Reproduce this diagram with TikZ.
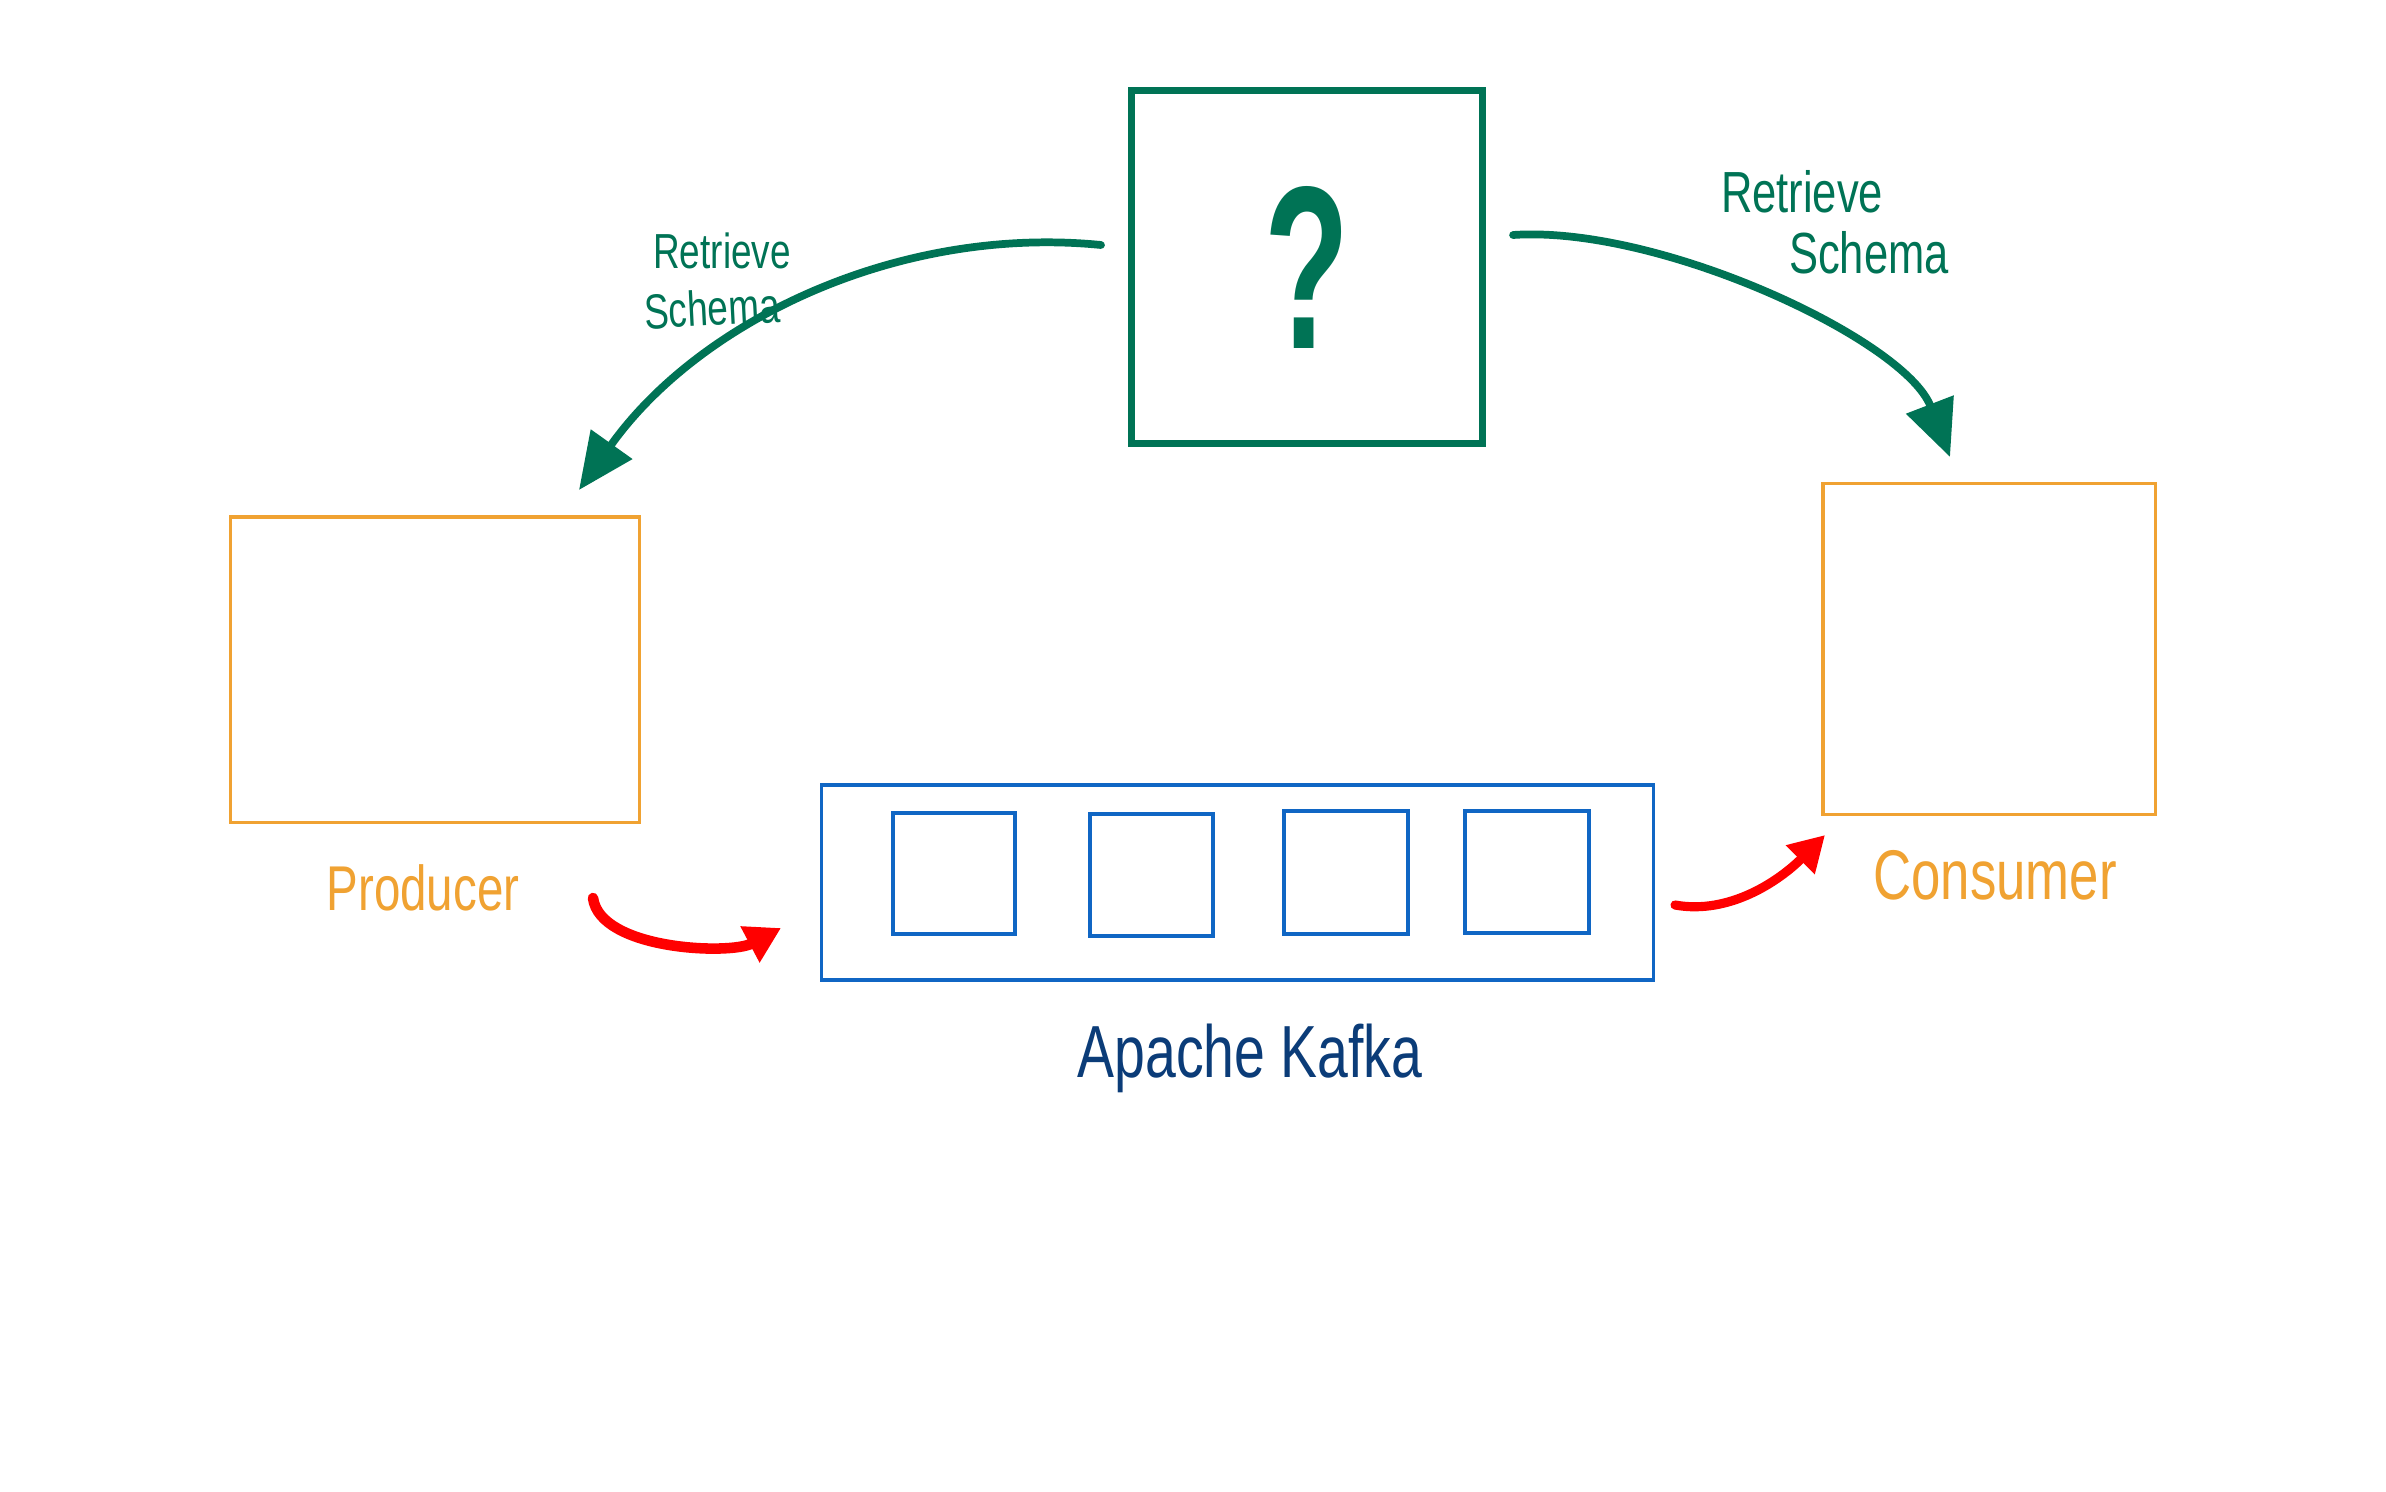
\documentclass[tikz,border=0pt]{standalone}
\usepackage{fontspec}
\usetikzlibrary{arrows.meta}
\newfontfamily\hand[FakeStretch=0.75]{Liberation Sans}
\newfontfamily\qmark[FakeStretch=0.6]{Liberation Sans}
\definecolor{sgreen}{HTML}{007355}
\definecolor{sorange}{HTML}{F0A232}
\definecolor{sblue}{HTML}{1066C4}
\definecolor{sdark}{HTML}{0B3C78}
\definecolor{sred}{HTML}{FF0000}
\tikzset{
  qbox/.style={draw=sgreen, line width=2pt, minimum width=3.5cm, minimum height=3.52cm, inner sep=0pt},
  pcbox/.style={draw=sorange, line width=0.9pt, inner sep=0pt},
  kbox/.style={draw=sblue, line width=0.9pt, inner sep=0pt},
  partbox/.style={draw=sblue, line width=0.9pt, inner sep=0pt},
  garrow/.style={draw=sgreen, line width=2.2pt, line cap=round, -{Triangle[length=16pt,width=14pt]}},
  rarrow/.style={draw=sred, line width=3pt, line cap=round, -{Triangle[length=10pt,width=11pt]}},
  glabel/.style={text=sgreen, inner sep=0pt, font=\hand},
}
\begin{document}
\begin{tikzpicture}[x=0.01cm,y=-0.01cm]
\useasboundingbox[fill=white] (0,0) rectangle (2386,1491);

% schema registry (unknown)
\node[qbox, text=sgreen, font=\qmark\bfseries\fontsize{66}{66}\selectfont] (q) at (1307,267) {?};

% producer and consumer
\node[pcbox, minimum width=4.08cm, minimum height=3.05cm] (prod) at (435,669.5) {};
\node[pcbox, minimum width=3.32cm, minimum height=3.30cm] (cons) at (1989,649) {};
\node[text=sorange, font=\hand\fontsize{18}{18}\selectfont, inner sep=0pt] (prodl) at (423,888) {Producer};
\node[text=sorange, font=\hand\fontsize{20}{20}\selectfont, inner sep=0pt] (consl) at (1995,875) {Consumer};

% kafka
\node[kbox, minimum width=8.31cm, minimum height=1.95cm] (kafka) at (1237.5,882.5) {};
\node[partbox, minimum width=1.22cm, minimum height=1.21cm] (k1) at (954,873.5) {};
\node[partbox, minimum width=1.23cm, minimum height=1.22cm] (k2) at (1151.5,875) {};
\node[partbox, minimum width=1.24cm, minimum height=1.23cm] (k3) at (1346,872.5) {};
\node[partbox, minimum width=1.24cm, minimum height=1.22cm] (k4) at (1527,872) {};
\node[text=sdark, font=\hand\fontsize{21}{21}\selectfont, inner sep=0pt] (kafkal) at (1250,1058) {Apache Kafka};

% labels
\node[glabel, font=\hand\fontsize{14}{14}\selectfont] (lr1) at (722,251) {Retrieve};
\node[glabel, font=\hand\fontsize{14}{14}\selectfont, rotate=3] (lr2) at (712,308) {Schema};
\node[glabel, font=\hand\fontsize{16.5}{16.5}\selectfont] (rr1) at (1802,192) {Retrieve};
\node[glabel, font=\hand\fontsize{16.5}{16.5}\selectfont] (rr2) at (1869,253) {Schema};

% connector ends
\coordinate (gls) at (1101,245);
\coordinate (gle) at (579,490);
\coordinate (grs) at (1513,235);
\coordinate (gre) at (1950,457);
\coordinate (rls) at (593,898);
\coordinate (rle) at (781,928);
\coordinate (rrs) at (1675,905);
\coordinate (rre) at (1825,835);

\draw[garrow] (gls) .. controls (900,225) and (700,320) .. (gle);
\draw[garrow] (grs) .. controls (1660,225) and (1905,340) .. (gre);
\draw[rarrow] (rls) .. controls (600,950) and (730,955) .. (rle);
\draw[rarrow, line width=2.6pt] (rrs) .. controls (1730,915) and (1780,880) .. (rre);
\end{tikzpicture}
\end{document}
